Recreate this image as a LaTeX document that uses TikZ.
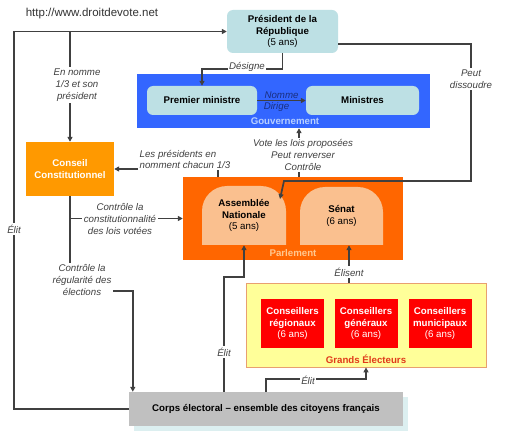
\documentclass[tikz,border=0pt]{standalone}
\usepackage{fontspec}
\setmainfont{Liberation Sans}
\usetikzlibrary{arrows.meta,positioning,calc}
\definecolor{Teal}{HTML}{BDE0E4}
\definecolor{GovBlue}{HTML}{3366FF}
\definecolor{GovText}{HTML}{B8D0FF}
\definecolor{Navy}{HTML}{1A2F80}
\definecolor{Amber}{HTML}{FF9900}
\definecolor{Flame}{HTML}{FF6600}
\definecolor{Peach}{HTML}{FAC08F}
\definecolor{ParlText}{HTML}{FFC890}
\definecolor{Cream}{HTML}{FFFF99}
\definecolor{CreamLine}{HTML}{E8A070}
\definecolor{Scarlet}{HTML}{FF0000}
\definecolor{GEText}{HTML}{E03A1A}
\definecolor{Stone}{HTML}{C0C0C0}
\definecolor{Mist}{HTML}{DCEFF0}
\definecolor{Ink}{HTML}{404040}
\tikzset{
  boxfont/.style={font=\fontsize{9.7}{11.7}\selectfont},
  tealbox/.style={fill=Teal,rounded corners=6pt,align=center,boxfont,text=black,inner sep=0pt},
  redbox/.style={fill=Scarlet,minimum width=63pt,minimum height=49pt,align=center,boxfont,text=white,inner sep=0pt},
  domebox/.style={fill=Flame,align=center,boxfont,text=black,inner sep=0pt,
    path picture={\fill[Peach] (path picture bounding box.south west) [rounded corners=25pt]
      -- (path picture bounding box.north west) -- (path picture bounding box.north east) [sharp corners]
      -- (path picture bounding box.south east) -- cycle;}},
  framelbl/.style={font=\fontsize{9.7}{11.7}\selectfont\bfseries,inner sep=0pt},
  lbl/.style={fill=white,inner sep=1.5pt,align=center,font=\fontsize{9.7}{11.7}\selectfont\itshape,text=Ink},
  line/.style={-{Triangle[length=5pt,width=5pt]},draw=Ink,line width=1.7pt}
}
\begin{document}
\begin{tikzpicture}[x=1pt,y=-1pt]
  \useasboundingbox[fill=white] (0,0) rectangle (512,441);
  % frames and boxes
  \node[fill=Mist,minimum width=274pt,minimum height=34pt,inner sep=0pt] (corpsshadow) at (271,414) {};
  \node[fill=Stone,minimum width=274pt,minimum height=34pt,inner sep=0pt,boxfont,font=\fontsize{9.7}{11.7}\selectfont\bfseries] (corps) at (266,409) {Corps électoral -- ensemble des citoyens français};
  \node[fill=GovBlue,minimum width=293pt,minimum height=54pt,inner sep=0pt] (gouv) at (283.5,101) {};
  \node[tealbox,minimum width=110pt,minimum height=29pt,font=\fontsize{9.7}{11.7}\selectfont\bfseries] (pm) at (202,100.5) {Premier ministre};
  \node[tealbox,minimum width=113pt,minimum height=29pt,font=\fontsize{9.7}{11.7}\selectfont\bfseries] (min) at (362.5,100.5) {Ministres};
  \node[framelbl,text=GovText] (gouvlbl) at (285,121) {Gouvernement};
  \node[tealbox,minimum width=111pt,minimum height=43pt] (pres) at (282.5,31.5) {\textbf{Président de la}\\\textbf{République}\\(5 ans)};
  \node[fill=Amber,minimum width=88pt,minimum height=54pt,inner sep=0pt,align=center,text=white,font=\fontsize{9.7}{11.7}\selectfont\bfseries] (conseil) at (70,169) {Conseil\\Constitutionnel};
  \node[fill=Flame,minimum width=220pt,minimum height=83pt,inner sep=0pt] (parl) at (293,218.5) {};
  \node[domebox,minimum width=84pt,minimum height=59pt] (an) at (244,215.5) {\textbf{Assemblée}\\\textbf{Nationale}\\(5 ans)};
  \node[domebox,minimum width=83pt,minimum height=58pt] (senat) at (341.5,216) {\textbf{Sénat}\\(6 ans)};
  \node[framelbl,text=ParlText] (parllbl) at (293,253) {Parlement};
  \node[fill=Cream,draw=CreamLine,line width=0.8pt,minimum width=240pt,minimum height=84pt,inner sep=0pt] (ge) at (366,325) {};
  \node[redbox] (cr) at (292.5,323.5) {\textbf{Conseillers}\\\textbf{régionaux}\\(6 ans)};
  \node[redbox] (cg) at (366,323.5) {\textbf{Conseillers}\\\textbf{généraux}\\(6 ans)};
  \node[redbox] (cm) at (440,323.5) {\textbf{Conseillers}\\\textbf{municipaux}\\(6 ans)};
  \node[framelbl,text=GEText] (gelbl) at (366,359) {Grands Électeurs};
  \node[font=\fontsize{11.5}{13}\selectfont,text=Ink!80!black,inner sep=0pt] (url) at (92,14) {http://www.droitdevote.net};
  % connectors
  \coordinate (tl) at (14,31.5);
  \coordinate (andome) at (280,199);
  \coordinate (elx) at (349,0);
  \draw[line] (corps.west) -| (tl) -- (pres.west);
  \draw[line] (tl -| conseil.north) -- (conseil.north);
  \draw[line] (pres.south) -- ++(0,16) -| (pm.north);
  \draw[line] (pm.east) -- (min.west)
    node[midway,above=1pt,inner sep=0pt,font=\fontsize{9.7}{11.7}\selectfont\itshape,text=Navy] (nomme) {Nomme}
    node[midway,below=1pt,inner sep=0pt,xshift=-5pt,font=\fontsize{9.7}{11.7}\selectfont\itshape,text=Navy] (dirige) {Dirige};
  \draw[line] ([yshift=-12.5pt]pres.east) -| (471,181) -- (284,181) -- (andome);
  \draw[line] ([xshift=6pt]parl.north) -- ([xshift=15.5pt]gouv.south);
  \draw[line] ([xshift=-75pt]parl.north) |- (conseil.east);
  \draw[line] (conseil.south |- parl.west) -- (parl.west);
  \draw[line] (conseil.south) -- (70,291) -| ([xshift=4pt]corps.north west);
  \draw[line] ([xshift=-42pt]corps.north) -- ++(0,-115) -| (an.south);
  \draw[line] (elx |- ge.north) -- (elx |- senat.south);
  \draw[line] (corps.north) -- ++(0,-13) -| (ge.south);
  % labels
  \node[lbl] (elitg) at (14,229) {Élit};
  \node[lbl,xshift=7pt] (nommel) at (70,85) {En nomme\\1/3 et son\\président};
  \node[lbl] (desig) at (247,67) {Désigne};
  \node[lbl] (dissl) at (471,79) {Peut\\dissoudre};
  \node[lbl] (votel) at (303,155) {Vote les lois proposées\\Peut renverser\\Contrôle};
  \node[lbl,align=left,anchor=west] (presl) at (138,159.5) {Les présidents en\\nomment chacun 1/3};
  \node[lbl] (constl) at (120,219) {Contrôle la\\constitutionnalité\\des lois votées};
  \node[lbl] (regl) at (82,280) {Contrôle la\\régularité des\\élections};
  \node[lbl] (elitan) at (224,352) {Élit};
  \node[lbl] (elisl) at (349,272) {Élisent};
  \node[lbl] (elitge) at (308,380) {Élit};
\end{tikzpicture}
\end{document}
